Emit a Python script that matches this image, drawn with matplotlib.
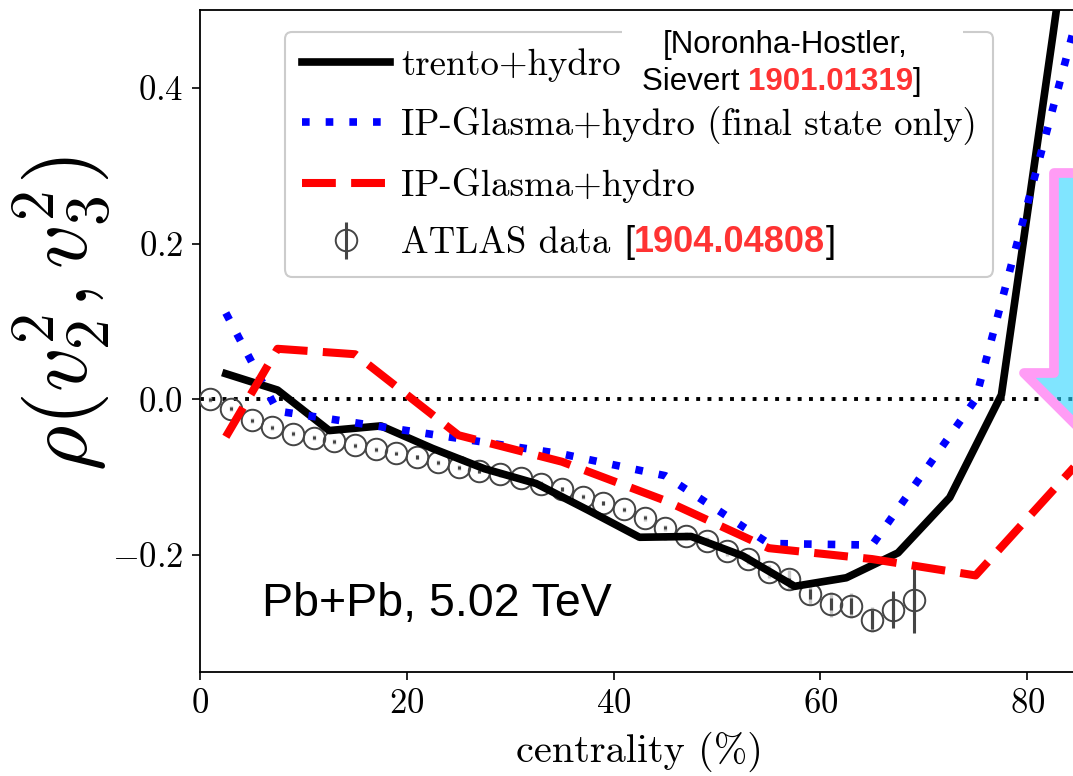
import numpy as np
import matplotlib
matplotlib.use("Agg")
import matplotlib.pyplot as plt
from matplotlib.patches import Rectangle, Polygon

plt.rcParams['font.family'] = ['cmr10']
plt.rcParams['mathtext.fontset'] = 'cm'
plt.rcParams['axes.formatter.use_mathtext'] = True

# ---- data ----
trento_x = [2.5, 7.5, 12.5, 17.5, 22.5, 27.5, 32.5, 37.5, 42.5, 47.5, 52.5, 57.5, 62.5, 67.5, 72.5, 77.5, 82.5, 87.5]
trento_y = [0.033, 0.012, -0.040, -0.034, -0.063, -0.089, -0.108, -0.142, -0.177, -0.176, -0.201, -0.240, -0.229, -0.197, -0.126, 0.006, 0.47, 0.95]

ipfs_x = [2.5, 7.5, 15, 25, 35, 45, 55, 65, 75, 85]
ipfs_y = [0.111, -0.015, -0.030, -0.050, -0.070, -0.098, -0.185, -0.187, 0.000, 0.50]

ip_x = [2.5, 7.5, 15, 25, 35, 45, 55, 65, 75, 85]
ip_y = [-0.048, 0.065, 0.058, -0.046, -0.080, -0.130, -0.191, -0.205, -0.226, -0.080]

atlas_x = list(range(1, 70, 2))
atlas_y = [0.000, -0.012, -0.027, -0.036, -0.044, -0.049, -0.054, -0.059, -0.064, -0.069,
           -0.074, -0.081, -0.087, -0.092, -0.096, -0.101, -0.108, -0.115, -0.125, -0.133,
           -0.141, -0.152, -0.165, -0.175, -0.182, -0.195, -0.205, -0.221, -0.231, -0.250,
           -0.263, -0.265, -0.283, -0.270, -0.257]
atlas_stat = [0.002] * 29 + [0.006, 0.008, 0.010, 0.012, 0.024, 0.043]
atlas_sys = [0.003] * 21 + [0.004, 0.004, 0.005, 0.005, 0.006, 0.006, 0.008, 0.012, 0.014,
                            0.016, 0.016, 0.016, 0.018, 0.020]

labels = ["trento+hydro", "IP-Glasma+hydro (final state only)", "IP-Glasma+hydro", "ATLAS data"]

W, H = 1073, 776
def P(x, y):
    return (x / W, 1 - y / H)

fig = plt.figure(figsize=(W / 100, H / 100), dpi=100)
ax = fig.add_axes([200 / W, (H - 672) / H, (1079 - 200) / W, (672 - 10) / H])

ax.axhline(0, color='black', lw=2.8, linestyle=(0, (1, 1.9)), zorder=1)

ax.errorbar(atlas_x, atlas_y, yerr=atlas_sys, fmt='none', ecolor='#c8c8c8', elinewidth=2.4, zorder=2)
h_atlas = ax.errorbar(atlas_x, atlas_y, yerr=atlas_stat, fmt='o', ms=15.5, mfc='none', mec='#454545',
                      mew=1.4, ecolor='#454545', elinewidth=2.2, capsize=0, zorder=2.5)

h_tr, = ax.plot(trento_x, trento_y, color='black', lw=5.5, zorder=3)
h_fs, = ax.plot(ipfs_x, ipfs_y, color='blue', lw=5.5, linestyle=(0, (1, 2.1)), zorder=3)
h_ip, = ax.plot(ip_x, ip_y, color='red', lw=5.8, linestyle=(0, (4.2, 1.9)), zorder=3)

ax.set_xlim(0, 85)
ax.set_ylim(-0.35, 0.5)
ax.set_xticks([0, 20, 40, 60, 80])
ax.set_yticks([-0.2, 0.0, 0.2, 0.4])
ax.tick_params(direction='out', length=6, width=1.2, labelsize=25, pad=6)
for s in ax.spines.values():
    s.set_linewidth(1.3)

leg = ax.legend([h_tr, h_fs, h_ip, h_atlas], labels, loc='upper left',
                bbox_to_anchor=P(285, 32), bbox_transform=fig.transFigure,
                borderaxespad=0, prop={'family': 'cmr10', 'size': 26.5},
                handlelength=2.4, handletextpad=0.3, labelspacing=0.64,
                borderpad=0.45, framealpha=1, edgecolor='#cccccc', fancybox=True)
leg.get_frame().set_linewidth(1.5)

# y label
fig.text(62 / W, 1 - 314 / H, r'$\rho(v_2^2, v_3^2)$', rotation=90, ha='center', va='center',
         fontsize=63)
# x label
fig.text(639 / W, 1 - 752 / H, 'centrality (%)', ha='center', va='center', fontsize=29)

# Pb+Pb annotation
ax.text(*P(262, 604), 'Pb+Pb, 5.02 TeV', transform=fig.transFigure, ha='left', va='center',
        fontsize=33.5, family='Liberation Sans', zorder=7)

# arrow (cropped)
arrow_pts = [P(1054, 173), P(1160, 173), P(1160, 373), P(1176, 373), P(1100, 449), P(1024, 373), P(1054, 373)]
arr = Polygon(arrow_pts, closed=True, transform=fig.transFigure, clip_on=False,
              facecolor=(43/255, 213/255, 1.0, 0.6), edgecolor='#ff9cf5', lw=7, joinstyle='round', zorder=4)
ax.add_artist(arr)

# white box + reference text on top of legend
ax.add_artist(Rectangle(P(622, 100), (963 - 622) / W, 76 / H, transform=fig.transFigure,
                        facecolor='white', edgecolor='none', clip_on=False, zorder=6))
sans = 'Liberation Sans'
ax.text(*P(785, 45), '[Noronha-Hostler,', transform=fig.transFigure, ha='center', va='center',
        fontsize=22.5, family=sans, zorder=7)
t1 = ax.text(*P(642, 82), 'Sievert ', transform=fig.transFigure, ha='left', va='center',
             fontsize=22.5, family=sans, zorder=7)
t2 = ax.annotate('1901.01319', xy=(1, 0), xycoords=t1, ha='left', va='bottom', fontsize=22.5,
                 family=sans, weight='bold', color='#ff3333', zorder=7, annotation_clip=False)
ax.annotate(']', xy=(1, 0), xycoords=t2, ha='left', va='bottom', fontsize=22.5,
            family=sans, zorder=7, annotation_clip=False)

r1 = ax.text(*P(624, 243), '[', transform=fig.transFigure, ha='left', va='center',
             fontsize=26, family=sans, zorder=7)
r2 = ax.annotate('1904.04808', xy=(1, 0), xycoords=r1, ha='left', va='bottom', fontsize=26,
                 family=sans, weight='bold', color='#ff3333', zorder=7, annotation_clip=False)
ax.annotate(']', xy=(1, 0), xycoords=r2, ha='left', va='bottom', fontsize=26,
            family=sans, zorder=7, annotation_clip=False)

fig.savefig('out.png', dpi=100)
